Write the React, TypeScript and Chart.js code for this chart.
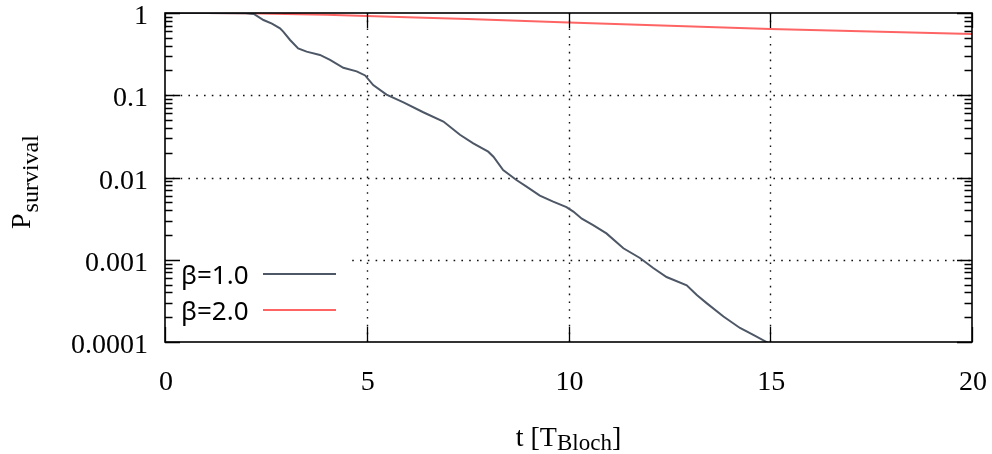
import React, { useEffect, useRef } from "react";
import { Chart, registerables } from "chart.js";

Chart.register(...registerables);

// β = 1.0 survival probability
const beta1T = [
  0, 1.0, 2.0, 2.2, 2.44, 2.65, 2.85, 2.93, 3.1, 3.3, 3.51, 3.84, 4.09, 4.42, 4.75, 4.96,
  5.16, 5.49, 5.91, 6.4, 6.9, 7.31, 7.64, 8.01, 8.14, 8.38, 8.71, 8.96, 9.29, 9.62,
  9.95, 10.12, 10.33, 10.61, 10.94, 11.36, 11.77, 12.1, 12.43, 12.93, 13.18, 13.43,
  13.84, 14.25, 14.58, 14.91, 15.1,
];
const beta1P = [
  1, 0.999, 0.992, 0.975, 0.822, 0.741, 0.652, 0.593, 0.47, 0.372, 0.339, 0.309, 0.269,
  0.216, 0.195, 0.174, 0.133, 0.102, 0.082, 0.0621, 0.0479, 0.0331, 0.026, 0.0206,
  0.0179, 0.0123, 0.00933, 0.00776, 0.00603, 0.00508, 0.00437, 0.00385, 0.00316,
  0.00264, 0.00209, 0.00138, 0.00105, 0.000794, 0.000617, 0.00049, 0.000372, 0.000295,
  0.000204, 0.000148, 0.000122, 0.0001, 0.0000871,
];

// β = 2.0 survival probability
const beta2T = [0, 1, 2, 3, 4, 5, 6, 7.5, 10, 12.5, 15, 17.5, 20];
const beta2P = [1, 0.998, 0.99, 0.975, 0.95, 0.92, 0.89, 0.845, 0.765, 0.7, 0.64, 0.595, 0.555];

const legendLabels = ["β=1.0", "β=2.0"];
const yMajorTicks = [1, 0.1, 0.01, 0.001, 0.0001];
const yTickLabels = ["1", "0.1", "0.01", "0.001", "0.0001"];
const yGridValues = [0.1, 0.01, 0.001];
const yDecades = [0.0001, 0.001, 0.01, 0.1];
const minorMultipliers = [2, 3, 4, 5, 6, 7, 8, 9];
const xMajorTicks = [0, 5, 10, 15, 20];
const xTickLabels = ["0", "5", "10", "15", "20"];
const xGridValues = [5, 10, 15];

const DARK = "#4d5766";
const RED = "#ff6464";
const SERIF = "'Liberation Serif', 'DejaVu Serif', serif";
const SANS = "'Noto Sans', 'DejaVu Sans', sans-serif";

const framePlugin = {
  id: "gnuplotFrame",
  beforeDatasetsDraw(chart: any) {
    const { ctx, chartArea } = chart;
    const xs = chart.scales.x;
    const ys = chart.scales.y;
    ctx.save();
    ctx.strokeStyle = "#111";
    ctx.lineWidth = 1.4;
    ctx.setLineDash([1.6, 6.2]);
    for (const v of yGridValues) {
      const y = Math.round(ys.getPixelForValue(v)) + 0.5;
      ctx.beginPath();
      ctx.moveTo(chartArea.left, y);
      ctx.lineTo(chartArea.right, y);
      ctx.stroke();
    }
    for (const v of xGridValues) {
      const x = Math.round(xs.getPixelForValue(v)) + 0.5;
      ctx.beginPath();
      ctx.moveTo(x, chartArea.bottom);
      ctx.lineTo(x, chartArea.top);
      ctx.stroke();
    }
    ctx.restore();
  },
  afterDatasetsDraw(chart: any) {
    const { ctx, chartArea } = chart;
    const { left, right, top, bottom } = chartArea;
    const xs = chart.scales.x;
    const ys = chart.scales.y;
    ctx.save();

    // legend background (opaque key box)
    ctx.fillStyle = "#fff";
    ctx.fillRect(left + 1, 250, 348 - left - 1, 82);

    // ticks
    ctx.strokeStyle = "#000";
    ctx.lineWidth = 1.3;
    const majorLen = 15;
    const minorLen = 7.5;
    ctx.beginPath();
    for (const v of yMajorTicks) {
      const y = Math.round(ys.getPixelForValue(v)) + 0.5;
      ctx.moveTo(left, y);
      ctx.lineTo(left + majorLen, y);
      ctx.moveTo(right, y);
      ctx.lineTo(right - majorLen, y);
    }
    for (const d of yDecades) {
      for (const m of minorMultipliers) {
        const y = Math.round(ys.getPixelForValue(d * m)) + 0.5;
        ctx.moveTo(left, y);
        ctx.lineTo(left + minorLen, y);
        ctx.moveTo(right, y);
        ctx.lineTo(right - minorLen, y);
      }
    }
    for (const v of xMajorTicks) {
      const x = Math.round(xs.getPixelForValue(v)) + 0.5;
      ctx.moveTo(x, bottom);
      ctx.lineTo(x, bottom - majorLen);
      ctx.moveTo(x, top);
      ctx.lineTo(x, top + majorLen);
    }
    ctx.stroke();

    // border
    ctx.lineWidth = 1.6;
    ctx.strokeRect(left, top, right - left, bottom - top);

    // tick labels
    ctx.fillStyle = "#000";
    ctx.font = `28px ${SERIF}`;
    ctx.textAlign = "right";
    ctx.textBaseline = "alphabetic";
    yMajorTicks.forEach((v, i) => {
      const y = ys.getPixelForValue(v);
      ctx.fillText(yTickLabels[i], 148, y + 11);
    });
    ctx.textAlign = "center";
    xMajorTicks.forEach((v, i) => {
      const x = xs.getPixelForValue(v);
      ctx.fillText(xTickLabels[i], x + 1, 390);
    });

    // x title: t [T_Bloch]
    ctx.textAlign = "left";
    const mainFont = `28px ${SERIF}`;
    const subFont = `23px ${SERIF}`;
    ctx.font = mainFont;
    const w1 = ctx.measureText("t [T").width;
    const w3 = ctx.measureText("]").width;
    ctx.font = subFont;
    const w2 = ctx.measureText("Bloch").width;
    const total = w1 + w2 + w3;
    let sx = (left + right) / 2 - total / 2;
    ctx.font = mainFont;
    ctx.fillText("t [T", sx, 446);
    sx += w1;
    ctx.font = subFont;
    ctx.fillText("Bloch", sx, 450);
    sx += w2;
    ctx.font = mainFont;
    ctx.fillText("]", sx, 446);

    // y title: P_survival (rotated)
    ctx.save();
    ctx.translate(30, 229);
    ctx.rotate(-Math.PI / 2);
    ctx.font = mainFont;
    ctx.fillText("P", 0, 0);
    const wp = ctx.measureText("P").width;
    ctx.font = `24px ${SERIF}`;
    ctx.fillText("survival", wp + 1, 8);
    ctx.restore();

    // legend entries
    ctx.font = `26px ${SANS}`;
    ctx.textAlign = "left";
    const rows = [
      { label: legendLabels[0], color: DARK, base: 284, ly: 274 },
      { label: legendLabels[1], color: RED, base: 320, ly: 310 },
    ];
    for (const r of rows) {
      ctx.fillStyle = "#000";
      ctx.fillText(r.label, 181, r.base);
      ctx.strokeStyle = r.color;
      ctx.lineWidth = 2;
      ctx.beginPath();
      ctx.moveTo(263, r.ly);
      ctx.lineTo(336, r.ly);
      ctx.stroke();
    }
    ctx.restore();
  },
};

export default function App() {
  const ref = useRef<HTMLCanvasElement>(null);
  useEffect(() => {
    const canvas = ref.current;
    if (!canvas) return;
    const chart = new Chart(canvas, {
      type: "line",
      data: {
        datasets: [
          {
            label: legendLabels[0],
            data: beta1T.map((t, i) => ({ x: t, y: beta1P[i] })),
            borderColor: DARK,
            borderWidth: 2,
            pointRadius: 0,
            tension: 0,
            fill: false,
          },
          {
            label: legendLabels[1],
            data: beta2T.map((t, i) => ({ x: t, y: beta2P[i] })),
            borderColor: RED,
            borderWidth: 2,
            pointRadius: 0,
            tension: 0,
            fill: false,
          },
        ],
      },
      options: {
        responsive: false,
        animation: false,
        layout: { padding: { left: 165, right: 20, top: 13, bottom: 112 } },
        plugins: {
          legend: { display: false },
          tooltip: { enabled: false },
        },
        scales: {
          x: { type: "linear", min: 0, max: 20, display: false },
          y: { type: "logarithmic", min: 0.0001, max: 1, display: false },
        },
      },
      plugins: [framePlugin],
    });
    return () => chart.destroy();
  }, []);

  return (
    <div style={{ position: "fixed", left: 0, top: 0, width: 992, height: 454, background: "#fff" }}>
      <canvas ref={ref} width={992} height={454} style={{ display: "block", width: 992, height: 454 }} />
    </div>
  );
}
